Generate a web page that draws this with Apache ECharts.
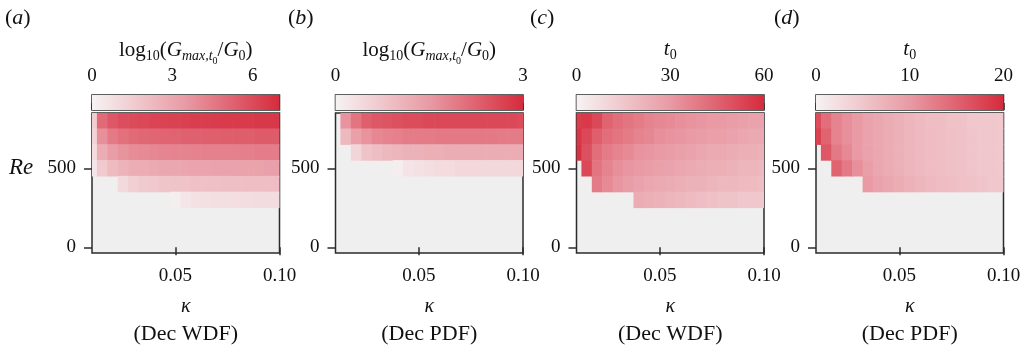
<!DOCTYPE html>
<html>
<head>
<meta charset="utf-8">
<script src="https://cdn.jsdelivr.net/npm/echarts@6/dist/echarts.min.js"></script>
<style>html,body{margin:0;padding:0;background:#fff;}#c{width:1030px;height:350px;}</style>
</head>
<body>
<div id="c"></div>
<script>
// ---------------- DATA ----------------
const kappa = [0.01,0.015,0.02,0.025,0.03,0.035,0.04,0.045,0.05,0.055,0.06,0.065,0.07,0.075,0.08,0.085,0.09,0.095,0.10];
const reValues = [800,700,600,500,400,300,200,100,0];
const xTicks = [0.05, 0.10];
const yTicks = [0, 500];
const panelLabels = ['a','b','c','d'];
const panelCaptions = ['(Dec WDF)','(Dec PDF)','(Dec WDF)','(Dec PDF)'];
const cbMax = [7, 3, 60, 20];
const cbTicks = [[0,3,6],[0,3],[0,30,60],[0,10,20]];

// (a) log10(Gmax,t0/G0), Dec WDF ; rows = reValues, columns = kappa
const gmaxWDF = [
 [1.5,5.0,5.6,5.9,6.0,6.1,6.2,6.25,6.3,6.35,6.4,6.4,6.45,6.5,6.5,6.5,6.55,6.55,6.6],
 [1.2,3.8,4.5,4.8,5.0,5.1,5.15,5.2,5.25,5.3,5.3,5.35,5.35,5.4,5.4,5.4,5.45,5.45,5.5],
 [0.9,2.8,3.4,3.7,3.9,4.0,4.1,4.15,4.2,4.2,4.25,4.3,4.3,4.3,4.35,4.35,4.4,4.4,4.4],
 [0.5,1.6,2.2,2.5,2.7,2.8,2.9,3.0,3.0,3.05,3.1,3.1,3.15,3.15,3.2,3.2,3.2,3.25,3.25],
 [null,null,null,1.0,1.4,1.6,1.7,1.8,1.85,1.9,1.95,2.0,2.0,2.05,2.05,2.1,2.1,2.1,2.15],
 [null,null,null,null,null,null,null,null,0.2,0.5,0.7,0.75,0.8,0.8,0.85,0.85,0.9,0.9,0.9],
 [null,null,null,null,null,null,null,null,null,null,null,null,null,null,null,null,null,null,null],
 [null,null,null,null,null,null,null,null,null,null,null,null,null,null,null,null,null,null,null],
 [null,null,null,null,null,null,null,null,null,null,null,null,null,null,null,null,null,null,null]
];
// (b) log10(Gmax,t0/G0), Dec PDF
const gmaxPDF = [
 [null,1.6,2.0,2.3,2.4,2.45,2.5,2.55,2.55,2.6,2.6,2.6,2.6,2.6,2.6,2.6,2.6,2.6,2.55],
 [null,1.0,1.4,1.6,1.75,1.8,1.85,1.9,1.9,1.9,1.95,1.95,1.95,1.95,1.95,1.95,1.9,1.9,1.9],
 [null,null,0.5,0.8,0.9,1.0,1.05,1.1,1.1,1.15,1.15,1.2,1.2,1.2,1.2,1.2,1.2,1.2,1.2],
 [null,null,null,null,null,null,0.1,0.25,0.3,0.35,0.4,0.4,0.45,0.45,0.45,0.45,0.45,0.45,0.45],
 [null,null,null,null,null,null,null,null,null,null,null,null,null,null,null,null,null,null,null],
 [null,null,null,null,null,null,null,null,null,null,null,null,null,null,null,null,null,null,null],
 [null,null,null,null,null,null,null,null,null,null,null,null,null,null,null,null,null,null,null],
 [null,null,null,null,null,null,null,null,null,null,null,null,null,null,null,null,null,null,null],
 [null,null,null,null,null,null,null,null,null,null,null,null,null,null,null,null,null,null,null]
];
// (c) t0, Dec WDF
const t0WDF = [
 [55,56,52,45,42,40,38,36,35,34,33,32,31,30,30,29,28,27,27],
 [57,52,46,42,40,38,36,35,33,32,31,30,29,28,28,27,26,25,25],
 [58,50,42,38,36,34,32,31,30,29,28,27,26,25,25,24,23,23,22],
 [null,52,40,36,33,31,30,29,28,27,26,25,24,23,23,22,21,21,20],
 [null,null,38,34,31,29,27,26,25,24,23,22,22,21,20,20,19,19,18],
 [null,null,null,null,null,null,24,23,22,21,20,19,18,17,16,16,15,15,15],
 [null,null,null,null,null,null,null,null,null,null,null,null,null,null,null,null,null,null,null],
 [null,null,null,null,null,null,null,null,null,null,null,null,null,null,null,null,null,null,null],
 [null,null,null,null,null,null,null,null,null,null,null,null,null,null,null,null,null,null,null]
];
// (d) t0, Dec PDF
const t0PDF = [
 [17,14,12,11,10,9,8.5,8,7.5,7,6.5,6,6,5.5,5.5,5,5,5,4.8],
 [18,15,12,11,10,9,8.5,8,7.5,7,6.5,6.2,6,5.7,5.5,5.2,5,5,4.8],
 [null,16,13,11.5,10,9,8.5,8,7.5,7,6.5,6.2,6,5.7,5.5,5.2,5,5,4.8],
 [null,null,15,13,11,9.5,8.5,8,7.5,7,6.5,6.2,6,5.7,5.5,5.2,5,5,4.8],
 [null,null,null,null,null,10,9,8.5,8,7.5,7,6.5,6.2,6,5.7,5.5,5.2,5,5],
 [null,null,null,null,null,null,null,null,null,null,null,null,null,null,null,null,null,null,null],
 [null,null,null,null,null,null,null,null,null,null,null,null,null,null,null,null,null,null,null],
 [null,null,null,null,null,null,null,null,null,null,null,null,null,null,null,null,null,null,null],
 [null,null,null,null,null,null,null,null,null,null,null,null,null,null,null,null,null,null,null]
];
const panelData = [gmaxWDF, gmaxPDF, t0WDF, t0PDF];

// ---------------- STYLE / LAYOUT ----------------
const FONT = 'Liberation Serif';
const cmap = ['#f6f3f3', '#e99aa4', '#d62b3c'];
const bg = '#efefef';
const frame = '#2b2b2b';
const lefts = [92, 335.5, 576.5, 816];
const labelX = [5, 288, 530, 774];
const W = 187.5, plotTop = 113, plotH = 140, cbTop = 95, cbH = 15;
const dK = 0.005, dRe = 100;

const chart = echarts.init(document.getElementById('c'), null, {renderer: 'canvas'});

const grid = [], xAxis = [], yAxis = [], series = [], visualMap = [], graphic = [];

function cellItem(params, api) {
  const k = api.value(0), r = api.value(1);
  const p0 = api.coord([k - dK / 2, r + dRe / 2]);
  const p1 = api.coord([k + dK / 2, r - dRe / 2]);
  const cs = params.coordSys;
  const rect = echarts.graphic.clipRectByRect(
    {x: p0[0] - 0.3, y: p0[1] - 0.3, width: p1[0] - p0[0] + 0.6, height: p1[1] - p0[1] + 0.6},
    {x: cs.x, y: cs.y, width: cs.width, height: cs.height});
  return rect && {type: 'rect', shape: rect, style: {fill: api.visual('color')}};
}

const ink = '#111';
// subscripts are pushed down with top padding (all tokens middle-aligned)
const titleRich = {
  n: {fontFamily: FONT, fontSize: 21, lineHeight: 24, color: ink},
  i: {fontFamily: FONT, fontSize: 21, fontStyle: 'italic', lineHeight: 24, color: ink},
  s: {fontFamily: FONT, fontSize: 14, lineHeight: 14, padding: [13,0,0,0], color: ink},
  si: {fontFamily: FONT, fontSize: 14, fontStyle: 'italic', lineHeight: 14, padding: [13,0,0,0], color: ink},
  ss: {fontFamily: FONT, fontSize: 10, lineHeight: 10, padding: [22,0,0,0], color: ink}
};
const cbTitles = [
  '{n|log}{s|10}{n|(}{i|G}{si|max,t}{ss|0}{n|/}{i|G}{s|0}{n|)}',
  '{n|log}{s|10}{n|(}{i|G}{si|max,t}{ss|0}{n|/}{i|G}{s|0}{n|)}',
  '{i|t}{s|0}',
  '{i|t}{s|0}'
];
const titleGap = [30, 30, 34, 34];

for (let p = 0; p < 4; p++) {
  const gi = 2 * p, ci = 2 * p + 1;
  grid.push({left: lefts[p], top: plotTop, width: W, height: plotH, show: true,
    backgroundColor: bg, borderColor: frame, borderWidth: 1.5, outerBoundsMode: 'none'});
  grid.push({left: lefts[p], top: cbTop, width: W, height: cbH, show: true,
    backgroundColor: 'transparent', borderColor: frame, borderWidth: 1.5, outerBoundsMode: 'none'});

  xAxis.push({type: 'value', gridIndex: gi, min: 0.01, max: 0.10, splitLine: {show: false},
    axisLine: {show: false},
    axisTick: {show: true, length: 8, customValues: xTicks, lineStyle: {color: frame, width: 1.5}},
    axisLabel: {customValues: xTicks, formatter: v => v.toFixed(2), fontFamily: FONT, fontSize: 19, color: ink, margin: 14},
    name: 'κ', nameLocation: 'middle', nameGap: 44,
    nameTextStyle: {fontFamily: FONT, fontSize: 20, fontStyle: 'italic', color: ink}});
  yAxis.push({type: 'value', gridIndex: gi, min: -36, max: 850, splitLine: {show: false},
    axisLine: {show: false},
    axisTick: {show: true, length: 8, customValues: yTicks, lineStyle: {color: frame, width: 1.5}},
    axisLabel: {customValues: yTicks, fontFamily: FONT, fontSize: 19, color: ink, margin: 16}});

  xAxis.push({type: 'value', gridIndex: ci, position: 'top', min: 0, max: cbMax[p], splitLine: {show: false},
    axisLine: {show: false},
    axisTick: {show: true, length: 7, customValues: cbTicks[p], lineStyle: {color: frame, width: 1.5}},
    axisLabel: {customValues: cbTicks[p], fontFamily: FONT, fontSize: 19, color: ink, margin: 9},
    name: cbTitles[p], nameLocation: 'middle', nameGap: titleGap[p],
    nameTextStyle: {rich: titleRich}});
  yAxis.push({type: 'value', gridIndex: ci, min: 0, max: 1, show: false});

  const data = [];
  panelData[p].forEach((row, ri) => row.forEach((v, ki) => {
    if (v !== null) data.push([kappa[ki], reValues[ri], v]);
  }));
  series.push({type: 'custom', xAxisIndex: gi, yAxisIndex: gi, renderItem: cellItem,
    encode: {x: 0, y: 1}, data: data, clip: true, silent: true});
  visualMap.push({type: 'continuous', show: false, seriesIndex: series.length - 1, dimension: 2,
    min: 0, max: cbMax[p], inRange: {color: cmap}});

  const mx = cbMax[p];
  series.push({type: 'custom', xAxisIndex: ci, yAxisIndex: ci, data: [[0, mx]], silent: true,
    renderItem: function (params, api) {
      const a = api.coord([api.value(0), 1]);
      const b = api.coord([api.value(1), 0]);
      return {type: 'rect', shape: {x: a[0], y: a[1], width: b[0] - a[0], height: b[1] - a[1]},
        style: {fill: new echarts.graphic.LinearGradient(0, 0, 1, 0, [
          {offset: 0, color: cmap[0]}, {offset: 0.5, color: cmap[1]}, {offset: 1, color: cmap[2]}])}};
    }});

  const cx = lefts[p] + W / 2;
  graphic.push({type: 'text', x: cx, y: 334, style: {text: panelCaptions[p], fontFamily: FONT, fontSize: 22, fill: ink, align: 'center', verticalAlign: 'middle'}});
  graphic.push({type: 'text', x: labelX[p], y: 18, style: {text: '{n|(}{i|' + panelLabels[p] + '}{n|)}', align: 'left', verticalAlign: 'middle',
    rich: {n: {fontFamily: FONT, fontSize: 22, fill: ink}, i: {fontFamily: FONT, fontSize: 22, fontStyle: 'italic', fill: ink}}}});
}
graphic.push({type: 'text', x: 9, y: 168, style: {text: 'Re', fontFamily: FONT, fontSize: 23, fontStyle: 'italic', fill: ink, align: 'left', verticalAlign: 'middle'}});

chart.setOption({animation: false, backgroundColor: '#fff', grid, xAxis, yAxis, visualMap, series, graphic});
</script>
</body>
</html>
